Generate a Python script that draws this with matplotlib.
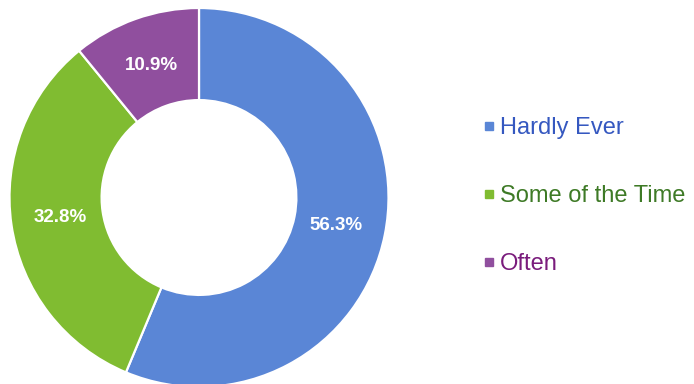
import matplotlib
matplotlib.use("Agg")
import matplotlib.pyplot as plt
from matplotlib.lines import Line2D

categories = ["Hardly Ever", "Some of the Time", "Often"]
values = [56.3, 32.8, 10.9]
pct_labels = ["56.3%", "32.8%", "10.9%"]
slice_colors = ["#5A86D6", "#80BC31", "#904F9E"]
text_colors = ["#3558C0", "#3E7A26", "#7A1C7C"]

plt.rcParams['font.family'] = ['Liberation Sans', 'DejaVu Sans']

W, H = 694, 384
fig = plt.figure(figsize=(W / 100, H / 100), dpi=100)
cx, cy, R = 199, 197.5, 189.5
ax = fig.add_axes([(cx - R) / W, (H - cy - R) / H, 2 * R / W, 2 * R / H])

wedges, texts, autotexts = ax.pie(
    values, colors=slice_colors, startangle=90, counterclock=False,
    radius=1, wedgeprops=dict(width=0.486, edgecolor='white', linewidth=1.6),
    autopct='%1.1f%%', pctdistance=0.74,
    textprops=dict(color='white', fontsize=13.5, fontweight='bold'))
for t, lab in zip(autotexts, pct_labels):
    t.set_text(lab)
ax.set_xlim(-1, 1)
ax.set_ylim(-1, 1)
ax.set_aspect('equal')
ax.axis('off')

handles = [Line2D([], [], marker='s', linestyle='none', markersize=5.8,
                  markerfacecolor=c, markeredgecolor=c) for c in slice_colors]
leg = fig.legend(handles, categories, loc='center left',
                 bbox_to_anchor=(474 / W, 1 - 196 / H), frameon=False,
                 fontsize=17, labelcolor=text_colors, handlelength=0.5,
                 handletextpad=0.2, labelspacing=1.95, borderaxespad=0)

fig.savefig("out.png", dpi=100)
